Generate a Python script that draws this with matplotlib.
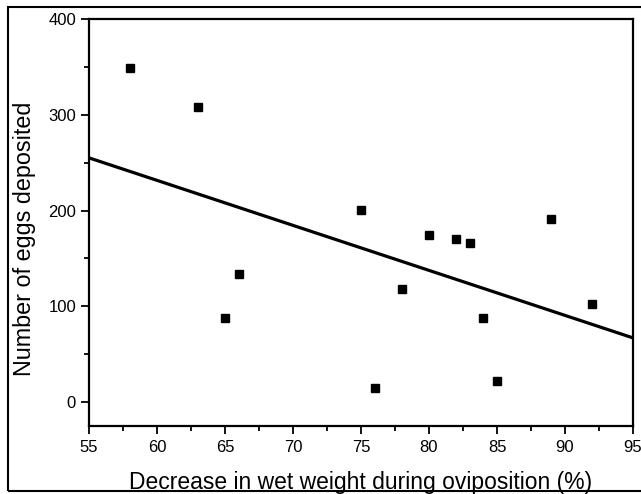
import matplotlib
matplotlib.use("Agg")
import matplotlib.pyplot as plt
from matplotlib.patches import Rectangle
from matplotlib.ticker import MultipleLocator

plt.rcParams['font.family'] = ['Liberation Sans', 'DejaVu Sans']

weight_decrease = [58, 63, 65, 66, 75, 76, 78, 80, 82, 83, 84, 85, 89, 92]
eggs = [349, 308, 88, 134, 201, 15, 118, 174, 170, 166, 88, 22, 191, 102]
fit_x = [55, 95]
fit_y = [255, 67]

W, H = 641, 494
fig = plt.figure(figsize=(W/100, H/100), dpi=100)
ax = fig.add_axes([89/W, 1-426/H, (633-89)/W, (426-19)/H])

ax.plot(fit_x, fit_y, color='black', lw=2.3, solid_capstyle='butt', zorder=2)
ax.plot(weight_decrease, eggs, 's', color='black', ms=5.8, zorder=3, clip_on=False)

ax.set_xlim(55, 95)
ax.set_ylim(-25, 400)
ax.xaxis.set_major_locator(MultipleLocator(5))
ax.xaxis.set_minor_locator(MultipleLocator(2.5))
ax.yaxis.set_major_locator(MultipleLocator(100))
ax.yaxis.set_minor_locator(MultipleLocator(50))
for s in ax.spines.values():
    s.set_linewidth(1.6)
ax.tick_params(which='both', direction='out', top=False, right=False, width=1.3, labelsize=12)
ax.tick_params(which='major', length=5.8)
ax.tick_params(which='minor', length=3.6)
ax.tick_params(axis='x', which='major', pad=4.5)
ax.tick_params(axis='y', which='major', pad=3.5)

fig.text(361/W, 1-489/H, 'Decrease in wet weight during oviposition (%)', fontsize=16.5,
         ha='center', va='baseline')
fig.text(31/W, 1-239/H, 'Number of eggs deposited', fontsize=16.8, rotation=90,
         ha='center', va='baseline', rotation_mode='anchor')

fig.patches.append(Rectangle((8/W, 3/H), 1.0, 1-10/H, transform=fig.transFigure,
                             fill=False, edgecolor='black', lw=1.5))

fig.savefig('out.png', dpi=100)
